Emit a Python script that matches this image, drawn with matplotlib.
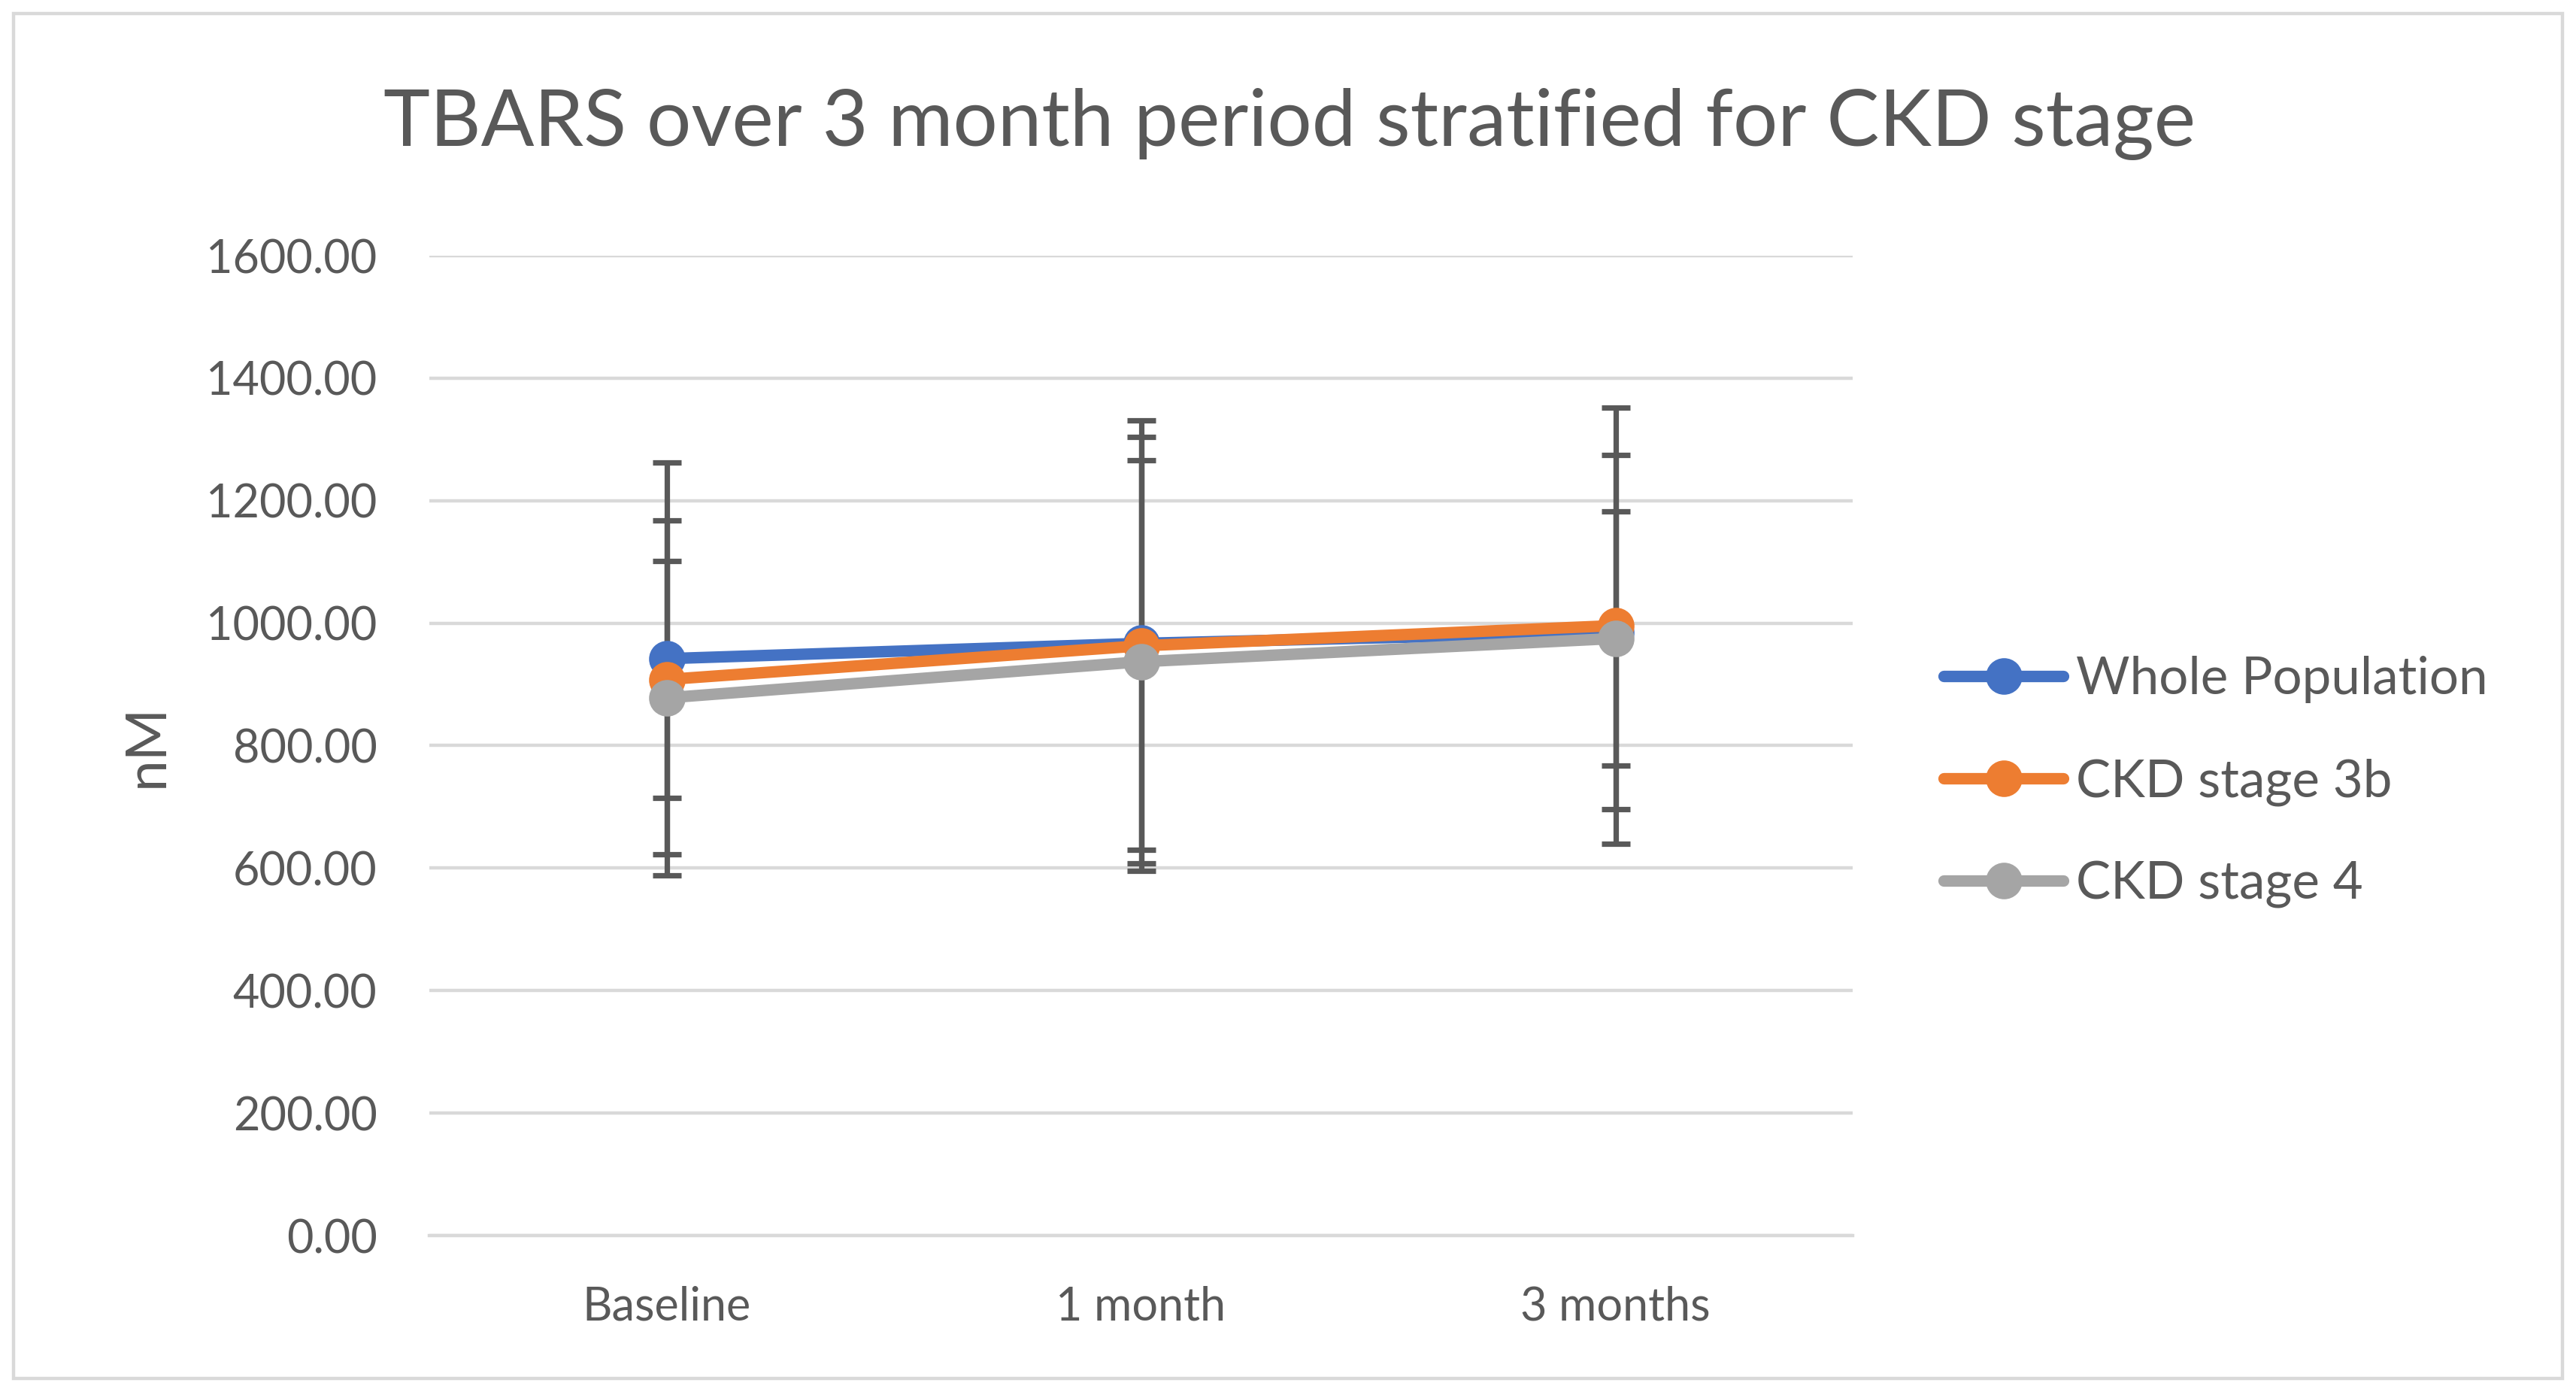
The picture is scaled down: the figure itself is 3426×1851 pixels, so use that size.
import matplotlib.pyplot as plt
from matplotlib.patches import Rectangle

plt.rcParams['font.family'] = ['Lato', 'DejaVu Sans']

timepoints = ["Baseline", "1 month", "3 months"]
series_names = ["Whole Population", "CKD stage 3b", "CKD stage 4"]
whole_pop = [942, 967, 985]
ckd_3b = [908, 963, 996]
ckd_4 = [878, 937, 975]
whole_pop_sd = [320, 337, 289]
ckd_3b_sd = [193, 368, 356]
ckd_4_sd = [290, 329, 207]
yticks = [0, 200, 400, 600, 800, 1000, 1200, 1400, 1600]

colors = ['#4472C4', '#ED7D31', '#A5A5A5']
text_color = '#595959'

fig = plt.figure(figsize=(17.13, 9.255), dpi=200)
ax = fig.add_axes([571 / 3426, 1 - 1643 / 1851, (2464 - 571) / 3426, (1643 - 340) / 1851])

x = list(range(len(timepoints)))
values = [whole_pop, ckd_3b, ckd_4]
sds = [whole_pop_sd, ckd_3b_sd, ckd_4_sd]

for vals, sd in zip(values, sds):
    ax.errorbar(x, vals, yerr=sd, fmt='none', ecolor=text_color, elinewidth=2.6,
                capsize=7, capthick=2.6, zorder=2)

for name, vals, c in zip(series_names, values, colors):
    ax.plot(x, vals, color=c, lw=5.5, marker='o', ms=16.5, label=name,
            solid_capstyle='round', zorder=3)

ax.set_xlim(-0.5, 2.5)
ax.set_ylim(0, 1600)
ax.set_yticks(yticks)
ax.set_yticklabels([f"{t:.2f}" for t in yticks])
ax.set_xticks(x)
ax.set_xticklabels(timepoints)
ax.grid(axis='y', color='#D9D9D9', lw=1.6, zorder=0)
ax.set_axisbelow(True)
for s in ['top', 'right', 'left']:
    ax.spines[s].set_visible(False)
ax.spines['bottom'].set_color('#D9D9D9')
ax.spines['bottom'].set_linewidth(1.6)
ax.tick_params(axis='both', length=0, labelsize=22, labelcolor=text_color)
ax.tick_params(axis='y', pad=25)
ax.tick_params(axis='x', pad=24)
ax.set_ylabel("nM", fontsize=27, color=text_color, labelpad=16)

fig.text(0.5 * (230 + 1332) / 1560, 1 - 165 / 1851,
         "TBARS over 3 month period stratified for CKD stage",
         ha='center', va='center', fontsize=37.7, color=text_color)

fig.legend(loc='center left', bbox_to_anchor=(2585 / 3426, 1 - 1040 / 1851),
           frameon=False, fontsize=24.9, labelcolor=text_color, handlelength=2.3,
           labelspacing=1.05, handletextpad=0.25, borderaxespad=0, borderpad=0)

fig.patches.append(Rectangle((18 / 3426, 18 / 1851), 1 - 36 / 3426, 1 - 36 / 1851,
                             transform=fig.transFigure, fill=False,
                             edgecolor='#D9D9D9', lw=1.6))

fig.savefig("out.png", dpi=200)
